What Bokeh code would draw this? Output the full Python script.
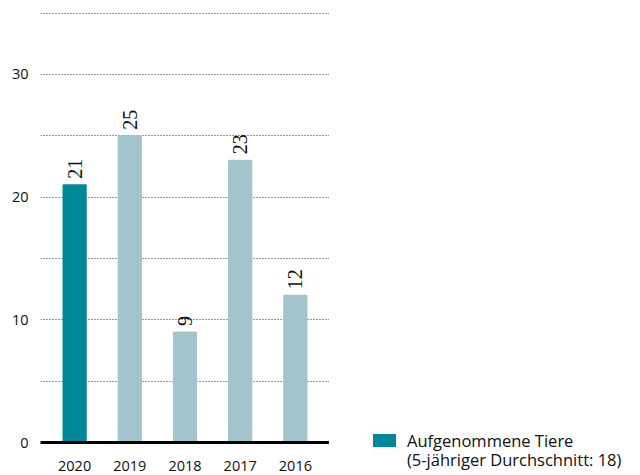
from math import pi
from bokeh.plotting import figure
from bokeh.layouts import row
from bokeh.models import (ColumnDataSource, FactorRange, Range1d, FixedTicker, Div)
from bokeh.embed import file_html
from bokeh.resources import INLINE
from bokeh.core.properties import value

# ---- data ----
years = ["2020", "2019", "2018", "2017", "2016"]
animals = [21, 25, 9, 23, 12]
bar_colors = ["#00879A", "#A2C4CC", "#A2C4CC", "#A2C4CC", "#A2C4CC"]
y_ticks = [0, 5, 10, 15, 20, 25, 30, 35]
y_tick_labels = {5: "", 15: "", 25: "", 35: ""}
legend_line1 = "Aufgenommene Tiere"
legend_line2 = "(5-jähriger Durchschnitt: 18)"
legend_color = bar_colors[0]

H = 475
src = ColumnDataSource(dict(year=years, n=animals, c=bar_colors,
                            t=[str(v) for v in animals]))

p = figure(width=329, height=H, output_backend="svg", toolbar_location=None,
           x_range=FactorRange(*years, range_padding=0.118, range_padding_units="absolute"),
           y_range=Range1d(0, 35.05),
           min_border_left=40, min_border_right=0, min_border_top=12, min_border_bottom=33)
p.outline_line_color = None

bars = p.vbar(x="year", top="n", width=0.42, color="c", source=src)
p.text(x="year", y="n", text="t", source=src, angle=pi / 2,
       text_align="left", text_baseline="middle", y_offset=-6,
       text_font=value("Liberation Sans Narrow"), text_font_size="20px",
       text_color="#111111")

# y axis
p.yaxis.ticker = FixedTicker(ticks=y_ticks)
p.yaxis.major_label_overrides = y_tick_labels
p.yaxis.axis_line_color = None
p.yaxis.major_tick_line_color = None
p.yaxis.major_tick_out = 0
p.yaxis.major_tick_in = 0
p.yaxis.minor_tick_line_color = None
p.yaxis.major_label_standoff = 12
p.yaxis.major_label_text_font = "Open Sans"
p.yaxis.major_label_text_font_size = "14.5px"
p.yaxis.major_label_text_color = "#111111"

# x axis
p.xaxis.axis_line_color = "black"
p.xaxis.axis_line_width = 3
p.xaxis.major_tick_line_color = None
p.xaxis.major_tick_out = 0
p.xaxis.major_tick_in = 0
p.xaxis.major_label_standoff = 18
p.xaxis.major_label_text_font = "Open Sans"
p.xaxis.major_label_text_font_size = "14.5px"
p.xaxis.major_label_text_color = "#111111"

p.xgrid.grid_line_color = None
p.ygrid.grid_line_color = "#333333"
p.ygrid.grid_line_dash = "1 2"
p.ygrid.grid_line_width = 1

# ---- legend (HTML, real text) ----
legend_html = (
    '<div style="display:flex;align-items:flex-start;margin:0;'
    'padding:431px 0 0 44px;box-sizing:border-box;">'
    f'<div style="flex:none;width:23px;height:13px;margin-top:3px;background:{legend_color};"></div>'
    '<div style="margin-left:11px;font-family:\'Open Sans\';font-size:16.5px;'
    'line-height:19px;color:#111111;white-space:nowrap;">'
    f'{legend_line1}<br>{legend_line2}</div></div>'
)
legend_div = Div(text=legend_html, width=311, height=H, margin=0)

layout = row(p, legend_div)
open("out.html", "w").write(file_html(layout, INLINE))
